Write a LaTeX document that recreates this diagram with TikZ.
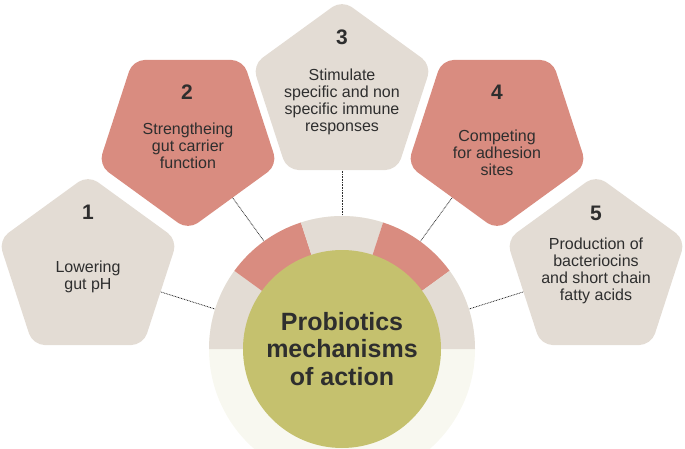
\documentclass[tikz,border=0pt]{standalone}
\usepackage{fontspec}
\setmainfont{Liberation Sans}
\usetikzlibrary{shapes.geometric}
\definecolor{beige}{HTML}{E3DCD4}
\definecolor{rose}{HTML}{D98C80}
\definecolor{olive}{HTML}{C5C16E}
\definecolor{cream}{HTML}{F8F8F0}
\definecolor{ink}{HTML}{2E2E2E}
\begin{document}
\begin{tikzpicture}[x=1pt,y=-1pt,
  pent/.style={regular polygon, regular polygon sides=5, minimum size=188pt, inner sep=0pt, outer sep=0pt, rounded corners=12pt, draw=none},
  pentdown/.style={pent, shape border rotate=180},
  num/.style={font=\bfseries\fontsize{21}{21}\selectfont, text=ink, inner sep=0pt},
  desc/.style={align=center, font=\fontsize{16}{16.8}\selectfont, text=ink, inner sep=0pt},
  dots/.style={draw=ink, line width=0.8pt, dash pattern=on 0.8pt off 0.8pt},
  hubstyle/.style={circle, fill=olive, minimum size=198pt, inner sep=0pt, align=center, font=\bfseries\fontsize{25}{27.5}\selectfont, text=ink}
]
\useasboundingbox (0,0) rectangle (685,449);
\clip (0,0) rectangle (685,449);
\coordinate (c1) at (88,269);
\coordinate (c2) at (188,136);
\coordinate (c3) at (342,94);
\coordinate (c4) at (497,136);
\coordinate (c5) at (596,269);
\coordinate (hc) at (342,349);
% dotted connectors
\draw[dots] (c1) -- (hc);
\draw[dots] (c2) -- (hc);
\draw[dots] (c3) -- (hc);
\draw[dots] (c4) -- (hc);
\draw[dots] (c5) -- (hc);
% ring
\fill[cream] (hc) circle[radius=133];
\fill[beige] (hc) -- ++(180:133) arc[start angle=180, end angle=216, radius=133] -- cycle;
\fill[rose]  (hc) -- ++(216:133) arc[start angle=216, end angle=252, radius=133] -- cycle;
\fill[beige] (hc) -- ++(252:133) arc[start angle=252, end angle=288, radius=133] -- cycle;
\fill[rose]  (hc) -- ++(288:133) arc[start angle=288, end angle=324, radius=133] -- cycle;
\fill[beige] (hc) -- ++(324:133) arc[start angle=324, end angle=360, radius=133] -- cycle;
\node[hubstyle] (hub) at (hc) {Probiotics\\mechanisms\\of action};
% pentagons
\node[pent, fill=beige] (p1) at (c1) {};
\node[pentdown, fill=rose] (p2) at (c2) {};
\node[pent, fill=beige] (p3) at (c3) {};
\node[pentdown, fill=rose] (p4) at (c4) {};
\node[pent, fill=beige] (p5) at (c5) {};
% labels
\node[num] (n1) at (88,212) {1};
\node[num] (n2) at (187,92) {2};
\node[num] (n3) at (342,37) {3};
\node[num] (n4) at (497,92) {4};
\node[num] (n5) at (596,213) {5};
\node[desc] (d1) at (88,277) {Lowering\\gut pH};
\node[desc] (d2) at (188,146) {Strengtheing\\gut carrier\\function};
\node[desc] (d3) at (342,102) {Stimulate\\specific and non\\specific immune\\responses};
\node[desc] (d4) at (497,153) {Competing\\for adhesion\\sites};
\node[desc] (d5) at (596,271) {Production of\\bacteriocins\\and short chain\\fatty acids};
\end{tikzpicture}
\end{document}
